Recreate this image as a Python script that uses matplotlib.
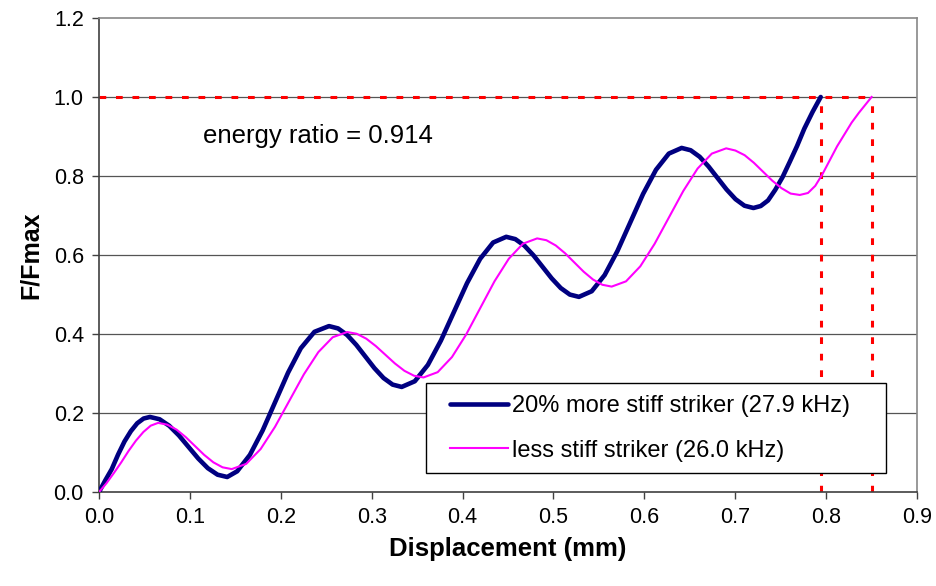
import matplotlib.pyplot as plt
from matplotlib.lines import Line2D
from matplotlib.legend_handler import HandlerLine2D

plt.rcParams['font.family'] = ['Liberation Sans', 'DejaVu Sans']

# 20% more stiff striker (27.9 kHz)
x_stiff = [0.0, 0.007, 0.014, 0.021, 0.028, 0.035, 0.042, 0.049, 0.056,
           0.0666, 0.0772, 0.0879, 0.0985, 0.1091, 0.1197, 0.1304, 0.141,
           0.152, 0.166, 0.180, 0.194, 0.208, 0.222, 0.237, 0.253,
           0.263, 0.273, 0.283, 0.293, 0.303, 0.313, 0.323, 0.333,
           0.3474, 0.3618, 0.3761, 0.3905, 0.4049, 0.4193, 0.4336, 0.448,
           0.458, 0.468, 0.478, 0.488, 0.498, 0.508, 0.518, 0.528,
           0.5421, 0.5563, 0.5704, 0.5845, 0.5986, 0.6128, 0.6269, 0.641,
           0.6509, 0.6608, 0.6706, 0.6805, 0.6904, 0.7003, 0.7101, 0.72,
           0.728, 0.736, 0.744, 0.752, 0.76, 0.768, 0.776, 0.785, 0.794]
y_stiff = [0.0, 0.03, 0.058, 0.095, 0.128, 0.154, 0.174, 0.186, 0.19,
           0.1842, 0.1677, 0.1431, 0.114, 0.0849, 0.0603, 0.0438, 0.038,
           0.0525, 0.094, 0.1558, 0.229, 0.3022, 0.364, 0.4055, 0.42,
           0.4141, 0.3974, 0.3725, 0.343, 0.3135, 0.2886, 0.2719, 0.266,
           0.2804, 0.3217, 0.3832, 0.456, 0.5288, 0.5903, 0.6316, 0.646,
           0.6402, 0.6237, 0.5991, 0.57, 0.5409, 0.5163, 0.4998, 0.494,
           0.5083, 0.5492, 0.6103, 0.6825, 0.7547, 0.8158, 0.8567, 0.871,
           0.8652, 0.8487, 0.8241, 0.795, 0.7659, 0.7413, 0.7248, 0.719,
           0.724, 0.738, 0.765, 0.797, 0.836, 0.876, 0.92, 0.962, 1.0]

# less stiff striker (26.0 kHz)
x_soft = [0.0, 0.0081, 0.0163, 0.0244, 0.0325, 0.0406, 0.0488, 0.0569, 0.065,
          0.0751, 0.0853, 0.0954, 0.1055, 0.1156, 0.1258, 0.1359, 0.146,
          0.1619, 0.1778, 0.1936, 0.2095, 0.2254, 0.2413, 0.2571, 0.273,
          0.2835, 0.294, 0.3045, 0.315, 0.3255, 0.336, 0.3465, 0.357,
          0.3726, 0.3883, 0.4039, 0.4195, 0.4351, 0.4508, 0.4664, 0.482,
          0.4922, 0.5025, 0.5128, 0.523, 0.5332, 0.5435, 0.5538, 0.564,
          0.5798, 0.5955, 0.6112, 0.627, 0.6428, 0.6585, 0.6742, 0.69,
          0.7001, 0.7103, 0.7204, 0.7305, 0.7406, 0.7508, 0.7609, 0.771,
          0.78, 0.788, 0.796, 0.804, 0.812, 0.82, 0.828, 0.836, 0.843, 0.85]
y_soft = [0.0, 0.022, 0.048, 0.075, 0.104, 0.13, 0.152, 0.168, 0.175,
          0.1705, 0.1579, 0.1389, 0.1165, 0.0941, 0.0751, 0.0625, 0.058,
          0.0712, 0.1088, 0.165, 0.2315, 0.298, 0.3542, 0.3918, 0.405,
          0.4006, 0.3882, 0.3695, 0.3475, 0.3255, 0.3068, 0.2944, 0.29,
          0.3034, 0.3416, 0.3986, 0.466, 0.5334, 0.5904, 0.6286, 0.642,
          0.6374, 0.6241, 0.6043, 0.581, 0.5577, 0.5379, 0.5246, 0.52,
          0.5333, 0.5713, 0.628, 0.695, 0.762, 0.8187, 0.8567, 0.87,
          0.8645, 0.8527, 0.8336, 0.811, 0.7884, 0.7693, 0.7555, 0.752,
          0.757, 0.775, 0.805, 0.84, 0.875, 0.905, 0.935, 0.96, 0.98, 1.0]

x_ticks = [0.0, 0.1, 0.2, 0.3, 0.4, 0.5, 0.6, 0.7, 0.8, 0.9]
y_ticks = [0.0, 0.2, 0.4, 0.6, 0.8, 1.0, 1.2]
x_end_stiff = 0.794
x_end_soft = 0.85

fig = plt.figure(figsize=(9.37, 5.86), dpi=100)
ax = fig.add_axes([0.1057, 0.1604, 0.873, 0.8089])

for y in y_ticks[1:-1]:
    ax.axhline(y, color='#555555', lw=0.9, zorder=1)

red = dict(color='#ff0000', lw=2.2, linestyle=(0, (2.2, 3.2)), zorder=2)
ax.plot([0, x_end_soft], [1.0, 1.0], **red)
ax.plot([x_end_stiff, x_end_stiff], [0, 1.0], **red)
ax.plot([x_end_soft, x_end_soft], [0, 1.0], **red)

ax.plot(x_stiff, y_stiff, color='#000080', lw=3.3, solid_capstyle='round',
        solid_joinstyle='round', label='20% more stiff striker (27.9 kHz)',
        zorder=3)
ax.plot(x_soft, y_soft, color='#ff00ff', lw=1.5, solid_joinstyle='round',
        label='less stiff striker (26.0 kHz)', zorder=3)

ax.set_xlim(0, 0.9)
ax.set_ylim(0, 1.2)
ax.set_xticks(x_ticks)
ax.set_yticks(y_ticks)
ax.set_xticklabels([f'{v:.1f}' for v in x_ticks])
ax.set_yticklabels([f'{v:.1f}' for v in y_ticks])
ax.tick_params(direction='out', length=5, width=1, labelsize=15.5, pad=6,
               color='#404040')

for side in ['top', 'right']:
    ax.spines[side].set_color('#888888')
    ax.spines[side].set_linewidth(1.2)
for side in ['left', 'bottom']:
    ax.spines[side].set_color('#404040')
    ax.spines[side].set_linewidth(1.2)

ax.set_xlabel('Displacement (mm)', fontsize=18.5, fontweight='bold', labelpad=6)
ax.set_ylabel('F/Fmax', fontsize=18, fontweight='bold', labelpad=8)

ax.text(0.114, 0.9, 'energy ratio = 0.914', fontsize=18.5, va='center',
        ha='left')

leg = ax.legend(loc='upper left', bbox_to_anchor=(0.40, 0.23, 0.562, 0.0),
                mode='expand', fontsize=17, frameon=True, fancybox=False,
                framealpha=1, handlelength=2.97, handletextpad=0.17,
                borderaxespad=0, labelspacing=0.97, borderpad=0.5,
                handler_map={Line2D: HandlerLine2D(xpad=0.51)})
leg.get_frame().set_edgecolor('black')
leg.get_frame().set_linewidth(1.0)
leg.set_zorder(5)

fig.savefig('out.png', dpi=100)
